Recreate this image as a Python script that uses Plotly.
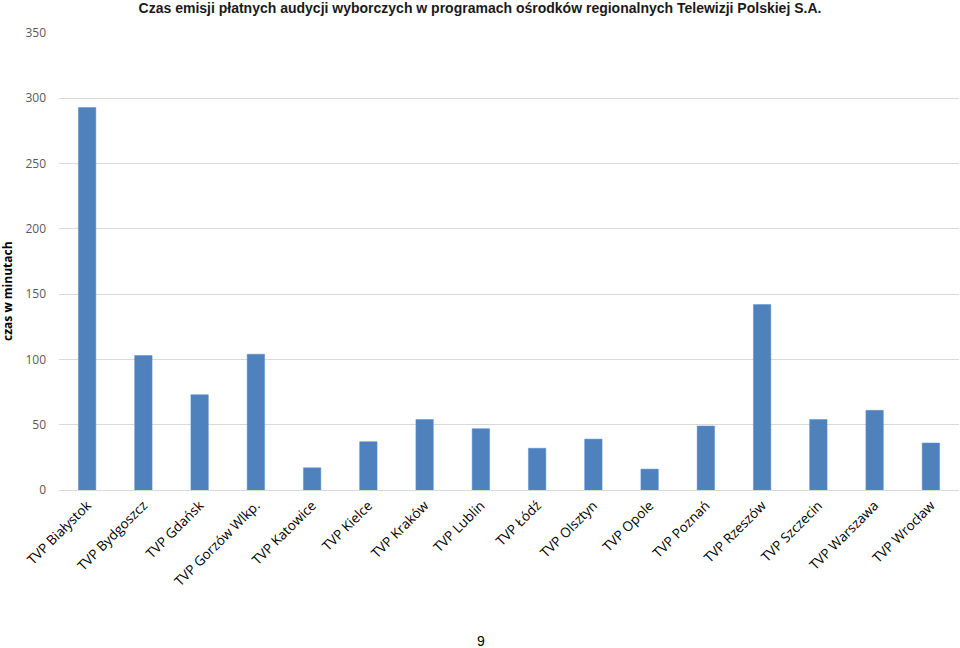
import plotly.graph_objects as go

categories = ["TVP Białystok", "TVP Bydgoszcz", "TVP Gdańsk", "TVP Gorzów Wlkp.", "TVP Katowice",
              "TVP Kielce", "TVP Kraków", "TVP Lublin", "TVP Łódź", "TVP Olsztyn", "TVP Opole",
              "TVP Poznań", "TVP Rzeszów", "TVP Szczecin", "TVP Warszawa", "TVP Wrocław"]
minutes = [293, 103, 73, 104, 17, 37, 54, 47, 32, 39, 16, 49, 142, 54, 61, 36]
y_ticks = [0, 50, 100, 150, 200, 250, 300, 350]

title_text = "Czas emisji płatnych audycji wyborczych w programach ośrodków regionalnych Telewizji Polskiej S.A."
y_title = "czas w minutach"
page_no = "9"

fig = go.Figure(go.Bar(
    x=categories, y=minutes,
    marker=dict(color="#4f81bd", line=dict(color="#5b8fd0", width=0.5)),
    width=0.31,
))

fig.update_layout(
    width=960, height=648,
    margin=dict(l=59, r=1, t=33, b=158),
    paper_bgcolor="white", plot_bgcolor="white",
    showlegend=False,
    title=dict(text=f"<b>{title_text}</b>", x=0.5, xanchor="center", y=0.987, yanchor="middle",
               font=dict(family="Liberation Sans", size=14, color="#1a1a1a")),
    font=dict(family="Open Sans", size=12, color="#000000"),
    xaxis=dict(tickangle=-45, showgrid=False, showline=False, ticks="",
               ticklabelstandoff=4,
               tickfont=dict(family="Open Sans", size=13.5, color="#000000")),
    yaxis=dict(range=[0, 350], tickvals=y_ticks, showgrid=True, gridcolor="#d9d9d9", gridwidth=1,
               zeroline=True, zerolinecolor="#d9d9d9", zerolinewidth=1, showline=False, ticks="",
               ticklabelstandoff=12,
               tickfont=dict(family="Open Sans", size=12, color="#595959")),
    annotations=[
        dict(text=f"<b>{y_title}</b>", textangle=-90, xref="paper", yref="paper",
             x=-0.057, y=0.435, xanchor="center", yanchor="middle", showarrow=False,
             font=dict(family="Open Sans", size=12, color="#000000")),
        dict(text=page_no, xref="paper", yref="paper", x=0.469, y=-0.330, xanchor="center", yanchor="middle",
             showarrow=False, font=dict(family="Liberation Sans", size=14, color="#000000")),
    ],
)

fig.write_html("out.html", config={"displayModeBar": False},
               post_script="document.body.style.margin='0';")
